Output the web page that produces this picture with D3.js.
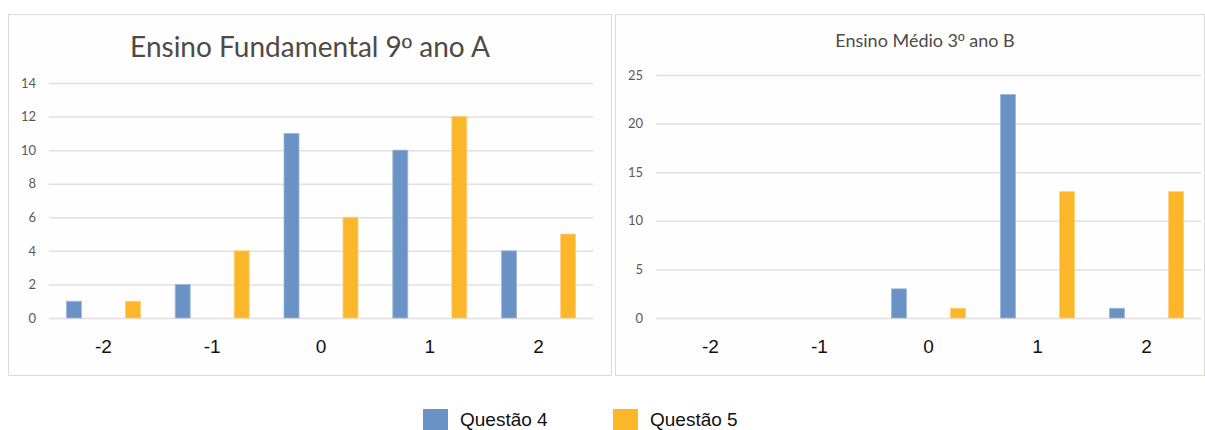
<!DOCTYPE html>
<html>
<head>
<meta charset="utf-8">
<script src="https://cdn.jsdelivr.net/npm/d3@7"></script>
<style>
  html, body { margin: 0; padding: 0; background: #ffffff; }
  svg { display: block; }
</style>
</head>
<body>
<svg id="chart" width="1205" height="430"></svg>
<script>
// Response categories shared by both panels
const categories = ["-2", "-1", "0", "1", "2"];
const seriesNames = ["Questão 4", "Questão 5"];
const seriesColors = ["#6b92c4", "#fbb62a"];

// Ensino Fundamental 9º ano A
const fundTitle = ["Ensino Fundamental 9", "º", " ano A"];
const fundQ4 = [1, 2, 11, 10, 4];
const fundQ5 = [1, 4, 6, 12, 5];
const fundTicks = [0, 2, 4, 6, 8, 10, 12, 14];

// Ensino Médio 3º ano B
const medTitle = ["Ensino Médio 3", "º", " ano B"];
const medQ4 = [0, 0, 3, 23, 1];
const medQ5 = [0, 0, 1, 13, 13];
const medTicks = [0, 5, 10, 15, 20, 25];

const svg = d3.select("#chart");

function drawPanel(cfg) {
  const g = svg.append("g");

  // panel frame
  g.append("rect")
    .attr("x", cfg.frame[0] + 0.5).attr("y", cfg.frame[1] + 0.5)
    .attr("width", cfg.frame[2]).attr("height", cfg.frame[3])
    .attr("fill", "#fefefe").attr("stroke", "#dedad8").attr("stroke-width", 1);

  const x = d3.scaleBand().domain(categories).range([cfg.left, cfg.right]).padding(0);
  const xs = d3.scaleBand().domain(seriesNames).range([0, x.bandwidth()])
    .paddingInner(0.746).paddingOuter(0.295);
  const y = d3.scaleLinear().domain([0, d3.max(cfg.ticks)]).range([cfg.bottom, cfg.top]);

  // gridlines
  const yAxis = d3.axisLeft(y).tickValues(cfg.ticks)
    .tickSize(-(cfg.right - cfg.left)).tickPadding(13).tickFormat(d3.format("d"));
  const ya = g.append("g").attr("transform", `translate(${cfg.left},0)`).call(yAxis);
  ya.select(".domain").remove();
  ya.selectAll(".tick line").attr("stroke", "#e3dfdd").attr("stroke-width", 1.5);
  ya.selectAll(".tick text")
    .attr("fill", "#595959").style("font-family", "Lato, 'Open Sans', sans-serif")
    .style("font-size", "13px");

  // bars
  const rows = categories.map((c, i) => ({ cat: c, vals: [cfg.q4[i], cfg.q5[i]] }));
  const groups = g.selectAll("g.cat").data(rows).join("g")
    .attr("class", "cat")
    .attr("transform", d => `translate(${x(d.cat)},0)`);
  groups.selectAll("rect")
    .data(d => d.vals.map((v, j) => ({ name: seriesNames[j], v, j })))
    .join("rect")
    .filter(d => d.v > 0)
    .attr("x", d => xs(d.name))
    .attr("width", xs.bandwidth())
    .attr("y", d => y(d.v))
    .attr("height", d => y(0) - y(d.v))
    .attr("fill", d => seriesColors[d.j])
    .attr("stroke", d => d.j === 0 ? "#9db8dc" : "#fdd07a")
    .attr("stroke-width", 0.8);

  // category axis labels
  const xAxis = d3.axisBottom(x).tickSize(0).tickPadding(22);
  const xa = g.append("g").attr("transform", `translate(0,${cfg.bottom})`).call(xAxis);
  xa.select(".domain").remove();
  xa.selectAll(".tick text")
    .attr("fill", "#111111").style("font-family", "'Liberation Sans', Arial, sans-serif")
    .style("font-size", "19px");

  // title (ordinal indicator drawn with a font that underlines it)
  const t = g.append("text")
    .attr("x", cfg.titleX).attr("y", cfg.titleY)
    .attr("text-anchor", "middle")
    .attr("fill", "#4d4a48")
    .style("font-family", "Lato, 'Open Sans', sans-serif")
    .style("font-size", cfg.titleSize + "px");
  cfg.title.forEach((part, i) => {
    const s = t.append("tspan").text(part);
    if (i === 1) s.style("font-family", "'Liberation Sans', 'DejaVu Sans', sans-serif");
  });
}

drawPanel({
  frame: [8, 14, 603, 361],
  left: 49, right: 593, top: 83, bottom: 318,
  ticks: fundTicks, q4: fundQ4, q5: fundQ5,
  title: fundTitle, titleX: 310, titleY: 57, titleSize: 28
});

drawPanel({
  frame: [615, 14, 589, 361],
  left: 656, right: 1201, top: 75, bottom: 318,
  ticks: medTicks, q4: medQ4, q5: medQ5,
  title: medTitle, titleX: 925, titleY: 47, titleSize: 18
});

// legend
const legend = svg.append("g").attr("class", "legend");
const legendX = [423, 613];
seriesNames.forEach((name, i) => {
  legend.append("rect")
    .attr("x", legendX[i]).attr("y", 409)
    .attr("width", 25).attr("height", 25)
    .attr("fill", seriesColors[i]);
  legend.append("text")
    .attr("x", legendX[i] + 37).attr("y", 426)
    .attr("fill", "#111111")
    .style("font-family", "'Liberation Sans', Arial, sans-serif")
    .style("font-size", "19px")
    .text(name);
});
</script>
</body>
</html>
